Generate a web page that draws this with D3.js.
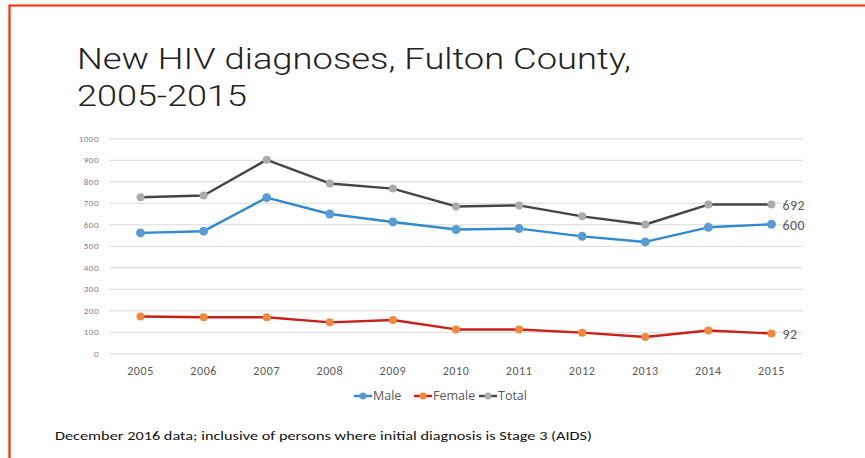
<!DOCTYPE html>
<html>
<head>
<meta charset="utf-8">
<script src="https://cdn.jsdelivr.net/npm/d3@7/dist/d3.min.js"></script>
<style>
  html, body { margin: 0; padding: 0; background: #fff; }
  svg { display: block; }
</style>
</head>
<body>
<svg id="chart" width="865" height="458"></svg>
<script>
// New HIV diagnoses by year, Fulton County
const years = ["2005","2006","2007","2008","2009","2010","2011","2012","2013","2014","2015"];
const male   = [560, 568, 724, 648, 611, 576, 580, 544, 518, 586, 600];
const female = [171, 168, 168, 144, 155, 111, 111, 96, 76, 106, 92];
const total  = [726, 734, 900, 790, 766, 683, 688, 637, 599, 692, 692];
const yTicks = [0, 100, 200, 300, 400, 500, 600, 700, 800, 900, 1000];
const seriesNames = ["Male", "Female", "Total"];
const endLabels = ["600", "92", "692"];

const series = [
  { name: seriesNames[0], values: male,   line: "#2f8bcc", marker: "#5b9bd5", r: 4.5, label: endLabels[0] },
  { name: seriesNames[1], values: female, line: "#c8211b", marker: "#f08a3a", r: 4,   label: endLabels[1] },
  { name: seriesNames[2], values: total,  line: "#454545", marker: "#ababab", r: 4,   label: endLabels[2] }
];

const svg = d3.select("#chart");
const font = "Calibri, Carlito, Lato, 'Open Sans', 'Noto Sans', sans-serif";
const lightFont = "'Roboto Light', Roboto, 'Open Sans', Lato, sans-serif";
const wideFont = "'Open Sans', 'Noto Sans', sans-serif";

// frame
svg.append("path")
  .attr("d", "M9.5,462 L9.5,5.5 L870,5.5")
  .attr("fill", "none").attr("stroke", "#ff2a00").attr("stroke-width", 2.2);

// title
const title = svg.append("g").attr("font-family", lightFont).attr("fill", "#222")
  .attr("font-size", 30).attr("font-weight", 300);
title.append("text").attr("x", 77).attr("y", 69)
  .attr("textLength", 554).attr("lengthAdjust", "spacingAndGlyphs")
  .text("New HIV diagnoses, Fulton County,");
title.append("text").attr("x", 77).attr("y", 106)
  .attr("textLength", 170).attr("lengthAdjust", "spacingAndGlyphs")
  .text("2005-2015");

// scales
const x = d3.scaleBand().domain(years).range([109, 803]);
const cx = d => x(d) + x.bandwidth() / 2;
const y = d3.scaleLinear().domain([0, 1000]).range([353.3, 138.3]);

// gridlines + y tick labels
const yAxis = d3.axisLeft(y).tickValues(yTicks).tickSize(-(803 - 109)).tickPadding(10)
  .tickFormat(d3.format("d"));
const gy = svg.append("g").attr("transform", "translate(109,0)").call(yAxis);
gy.select(".domain").remove();
gy.selectAll(".tick line").attr("stroke", "#d9d9d9").attr("stroke-width", 1);
gy.selectAll(".tick text").attr("fill", "#7f7f7f").attr("font-size", 9)
  .attr("letter-spacing", 0.5).attr("font-family", font);

// x tick labels
const xAxis = d3.axisBottom(x).tickSize(0).tickPadding(13);
const gx = svg.append("g").attr("transform", "translate(0,353.3)").call(xAxis);
gx.select(".domain").remove();
gx.selectAll(".tick text").attr("fill", "#595959").attr("font-size", 12)
  .attr("letter-spacing", 0.6).attr("font-family", font);

// lines & markers
const lineGen = d3.line().x((d, i) => cx(years[i])).y(d => y(d));
series.forEach(s => {
  const g = svg.append("g");
  g.append("path").datum(s.values).attr("d", lineGen)
    .attr("fill", "none").attr("stroke", s.line).attr("stroke-width", 2.4)
    .attr("stroke-linejoin", "round");
  g.selectAll("circle").data(s.values).join("circle")
    .attr("cx", (d, i) => cx(years[i])).attr("cy", d => y(d))
    .attr("r", s.r).attr("fill", s.marker);
  // end value label
  const last = s.values[s.values.length - 1];
  g.append("text")
    .attr("x", cx(years[years.length - 1]) + 11)
    .attr("y", y(last) + 1)
    .attr("dy", "0.35em")
    .attr("font-family", font).attr("font-size", 14).attr("fill", "#595959")
    .attr("letter-spacing", 0.4)
    .text(s.label);
});

// legend
const legendX = [354, 414, 479];
const legend = svg.append("g").attr("font-family", wideFont).attr("font-size", 12.5);
series.forEach((s, i) => {
  const lg = legend.append("g").attr("transform", `translate(${legendX[i]},396)`);
  lg.append("line").attr("x1", 0).attr("x2", 18).attr("y1", 0).attr("y2", 0)
    .attr("stroke", s.line).attr("stroke-width", 2.4);
  lg.append("circle").attr("cx", 9).attr("cy", 0).attr("r", 3.5).attr("fill", s.marker);
  lg.append("text").attr("x", 19).attr("y", 0).attr("dy", "0.35em")
    .attr("fill", "#595959").text(s.name);
});

// footnote
svg.append("text").attr("x", 55).attr("y", 440)
  .attr("font-family", font).attr("font-size", 12.5).attr("fill", "#111")
  .attr("textLength", 537).attr("lengthAdjust", "spacingAndGlyphs")
  .text("December 2016 data; inclusive of persons where initial diagnosis is Stage 3 (AIDS)");
</script>
</body>
</html>
